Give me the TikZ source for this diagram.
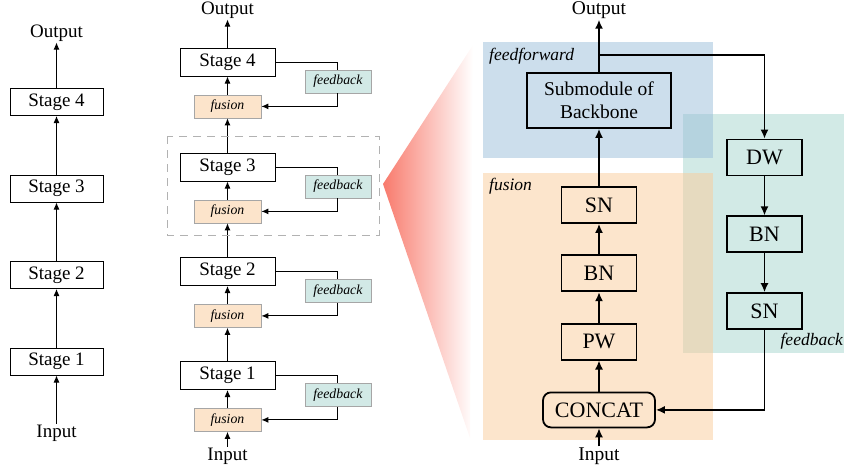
\documentclass[tikz,border=0pt]{standalone}
\usepackage{fontspec}
\setmainfont{Liberation Serif}
\usepackage{tikz}
\usetikzlibrary{positioning,arrows.meta}

\definecolor{ffblue}{RGB}{153,189,217}
\definecolor{fuorange}{RGB}{250,203,153}
\definecolor{fbteal}{RGB}{210,234,230}
\definecolor{fucell}{RGB}{252,228,203}
\definecolor{fbcell}{RGB}{210,233,230}
\definecolor{wedgered}{RGB}{248,122,108}

\newcommand{\mainfs}{\fontsize{19pt}{21pt}\selectfont}
\newcommand{\tagfs}{\fontsize{13.8pt}{15pt}\selectfont\itshape}
\newcommand{\opfs}{\fontsize{22pt}{24pt}\selectfont}
\newcommand{\subfs}{\fontsize{19.5pt}{23pt}\selectfont}
\newcommand{\grpfs}{\fontsize{17.5pt}{19pt}\selectfont\itshape}

\begin{document}
\begin{tikzpicture}[x=1pt,y=-1pt,
	stage/.style={draw,line width=1pt,minimum width=93pt,minimum height=27pt,inner sep=0pt,font=\mainfs},
	midstage/.style={stage,minimum width=95pt,minimum height=28pt},
	fusetag/.style={draw=black!35,line width=0.8pt,fill=fucell,minimum width=67pt,minimum height=23pt,inner sep=0pt,font=\tagfs},
	fbtag/.style={draw=black!35,line width=0.8pt,fill=fbcell,minimum width=66pt,minimum height=23pt,inner sep=0pt,font=\tagfs},
	opbox/.style={draw,line width=1.8pt,minimum width=75pt,minimum height=36pt,inner sep=0pt,font=\opfs},
	txt/.style={inner sep=1pt,font=\mainfs},
	grplbl/.style={inner sep=0pt,font=\grpfs},
	thinarr/.style={line width=1pt,-{Latex[length=7pt,width=6pt]}},
	thinline/.style={line width=1pt},
	bigarr/.style={line width=1.6pt,-{Latex[length=9pt,width=8pt]}}]

	\useasboundingbox (0,0) rectangle (844,467);

	% plain backbone
	\node[stage] (a1) at (56.5,361.5) {Stage 1};
	\node[stage] (a2) [above=58.5pt of a1] {Stage 2};
	\node[stage] (a3) [above=58.5pt of a2] {Stage 3};
	\node[stage] (a4) [above=58.5pt of a3] {Stage 4};
	\node[txt] (ain) at (56.5,433) {Input};
	\node[txt] (aout) at (56.5,33) {Output};

	\draw[thinarr] (ain) -- (a1);
	\draw[thinarr] (a1) -- (a2);
	\draw[thinarr] (a2) -- (a3);
	\draw[thinarr] (a3) -- (a4);
	\draw[thinarr] (a4) -- (aout);

	% backbone with fusion and feedback
	\node[midstage] (m1) at (227.5,375.5) {Stage 1};
	\node[fusetag] (fu1) [below=18pt of m1] {fusion};
	\node[fbtag] (fb1) [right=29pt of m1,yshift=-19.5pt] {feedback};
	\node[midstage] (m2) at (227.5,271.5) {Stage 2};
	\node[fusetag] (fu2) [below=18pt of m2] {fusion};
	\node[fbtag] (fb2) [right=29pt of m2,yshift=-19.5pt] {feedback};
	\node[midstage] (m3) at (227.5,167) {Stage 3};
	\node[fusetag] (fu3) [below=18pt of m3] {fusion};
	\node[fbtag] (fb3) [right=29pt of m3,yshift=-19.5pt] {feedback};
	\node[midstage] (m4) at (227.5,62) {Stage 4};
	\node[fusetag] (fu4) [below=18pt of m4] {fusion};
	\node[fbtag] (fb4) [right=29pt of m4,yshift=-19.5pt] {feedback};
	\node[txt] (min) at (227.5,456) {Input};
	\node[txt] (mout) at (227.5,10) {Output};

	\draw[thinarr] (min) -- (fu1);
	\draw[thinarr] (fu1) -- (m1);
	\draw[thinarr] (m1) -- (fu2);
	\draw[thinarr] (fu2) -- (m2);
	\draw[thinarr] (m2) -- (fu3);
	\draw[thinarr] (fu3) -- (m3);
	\draw[thinarr] (m3) -- (fu4);
	\draw[thinarr] (fu4) -- (m4);
	\draw[thinarr] (m4) -- (mout);
	\draw[thinline] (m1.east) -| (fb1.north);
	\draw[thinarr] (fb1.south) |- (fu1.east);
	\draw[thinline] (m2.east) -| (fb2.north);
	\draw[thinarr] (fb2.south) |- (fu2.east);
	\draw[thinline] (m3.east) -| (fb3.north);
	\draw[thinarr] (fb3.south) |- (fu3.east);
	\draw[thinline] (m4.east) -| (fb4.north);
	\draw[thinarr] (fb4.south) |- (fu4.east);

	\draw[black!30,line width=1pt,dash pattern=on 8pt off 6pt] (167,136) rectangle (379,235);

	% zoom wedge
	\shade[left color=wedgered,right color=white] (383,184) -- (473,45) -- (470,438) -- cycle;

	% detail of one stage
	\fill[fbteal] (683,114) rectangle (844,353);
	\fill[ffblue,fill opacity=0.5] (483,42) rectangle (713,158);
	\fill[fuorange,fill opacity=0.5] (483,173) rectangle (713,440);
	\node[grplbl,anchor=west] (fflbl) at (489,56) {feedforward};
	\node[grplbl,anchor=west] (fulbl) at (489,186) {fusion};
	\node[grplbl,anchor=east] (fblbl) at (843,341) {feedback};

	\node[opbox,font=\subfs,align=center,minimum width=144pt,minimum height=55pt] (sub) at (599,100.5) {Submodule of\\Backbone};
	\node[opbox] (fsn) at (599,205) {SN};
	\node[opbox] (fbn) [below=30.5pt of fsn] {BN};
	\node[opbox] (fpw) [below=30.5pt of fbn] {PW};
	\node[opbox,rounded corners=8pt,minimum width=112pt,minimum height=35pt] (cat) [below=31pt of fpw] {CONCAT};
	\node[txt,font=\subfs] (rin) at (599,456) {Input};
	\node[txt,font=\subfs] (rout) at (599,10) {Output};

	\node[opbox] (dw) at (764.5,157.5) {DW};
	\node[opbox] (bbn) [below=39pt of dw] {BN};
	\node[opbox] (bsn) [below=39pt of bbn] {SN};
	\coordinate (br) at (599,55);

	\draw[bigarr] (rin) -- (cat);
	\draw[bigarr] (cat) -- (fpw);
	\draw[bigarr] (fpw) -- (fbn);
	\draw[bigarr] (fbn) -- (fsn);
	\draw[bigarr] (fsn) -- (sub);
	\draw[bigarr] (sub) -- (rout);
	\draw[bigarr] (br) -| (dw.north);
	\draw[bigarr] (dw) -- (bbn);
	\draw[bigarr] (bbn) -- (bsn);
	\draw[bigarr] (bsn.south) |- (cat.east);
\end{tikzpicture}
\end{document}
